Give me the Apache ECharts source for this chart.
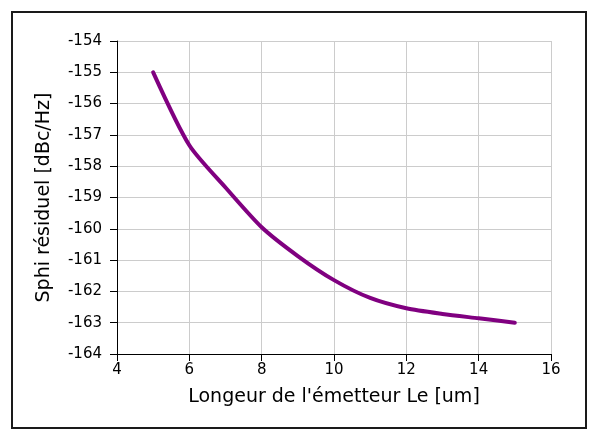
<!DOCTYPE html>
<html>
<head>
<meta charset="utf-8">
<script src="https://cdn.jsdelivr.net/npm/echarts@6/dist/echarts.min.js"></script>
<style>
  html, body { margin: 0; padding: 0; background: #fff; }
  #chart { width: 590px; height: 431px; }
</style>
</head>
<body>
<div id="chart"></div>
<script>
// Emitter length (um) and residual phase noise (dBc/Hz)
const emitterLength = [5, 6, 7, 8, 9, 10, 11, 12, 13, 14, 15];
const residualNoise = [-155.0, -157.33, -158.68, -159.95, -160.87, -161.64, -162.21, -162.54, -162.72, -162.86, -163.0];
const xTicks = [4, 6, 8, 10, 12, 14, 16];
const yTicks = [-164, -163, -162, -161, -160, -159, -158, -157, -156, -155, -154];

const font = 'DejaVu Sans';
const chart = echarts.init(document.getElementById('chart'), null, { renderer: 'canvas' });

chart.setOption({
  animation: false,
  backgroundColor: '#fff',
  graphic: [{
    type: 'rect',
    shape: { x: 12, y: 12, width: 574, height: 416 },
    style: { fill: 'none', stroke: '#1a1a1a', lineWidth: 2 },
    silent: true
  }],
  grid: { left: 117, right: 39, top: 41, bottom: 77, containLabel: false },
  xAxis: {
    type: 'value',
    min: xTicks[0],
    max: xTicks[xTicks.length - 1],
    interval: 2,
    name: "Longeur de l'émetteur Le [um]",
    nameLocation: 'middle',
    nameGap: 34,
    nameTextStyle: { fontFamily: font, fontSize: 19, color: '#000' },
    axisLine: { show: true, onZero: false, lineStyle: { color: '#000', width: 1 } },
    axisTick: { show: true, length: 7, lineStyle: { color: '#000' } },
    axisLabel: { fontFamily: font, fontSize: 15, color: '#000', margin: 9 },
    splitLine: { show: true, lineStyle: { color: '#cccccc', width: 1 } }
  },
  yAxis: {
    type: 'value',
    min: yTicks[0],
    max: yTicks[yTicks.length - 1],
    interval: 1,
    name: 'Sphi résiduel [dBc/Hz]',
    nameLocation: 'middle',
    nameRotate: 90,
    nameGap: 63,
    nameTextStyle: { fontFamily: font, fontSize: 19, color: '#000' },
    axisLine: { show: true, onZero: false, lineStyle: { color: '#000', width: 1 } },
    axisTick: { show: true, length: 7, lineStyle: { color: '#000' } },
    axisLabel: { fontFamily: font, fontSize: 15, color: '#000', margin: 15 },
    splitLine: { show: true, lineStyle: { color: '#cccccc', width: 1 } }
  },
  series: [{
    type: 'line',
    data: emitterLength.map((x, i) => [x, residualNoise[i]]),
    smooth: 0.25,
    showSymbol: false,
    lineStyle: { color: '#800080', width: 4, cap: 'round', join: 'round' }
  }]
});
</script>
</body>
</html>
